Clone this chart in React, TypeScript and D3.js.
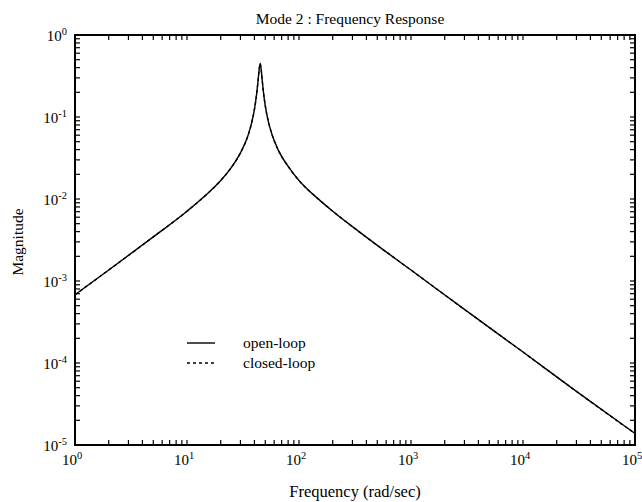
import React from "react";
import * as d3 from "d3";

// Frequency (rad/sec) and magnitude
const freq = [1, 2, 5, 10, 15, 20, 25, 30, 35, 38, 40, 42, 43, 44, 45, 46, 47, 48, 50, 53, 57, 65, 80, 100, 150, 200, 300, 500, 1000, 3000, 10000, 30000, 100000];
const openLoop = [6.8e-4, 1.36e-3, 3.45e-3, 7.1e-3, 1.14e-2, 1.68e-2, 2.45e-2, 3.65e-2, 5.9e-2, 8.8e-2, 0.124, 0.198, 0.268, 0.37, 0.45, 0.375, 0.276, 0.208, 0.137, 9.05e-2, 6.3e-2, 4.0e-2, 2.5e-2, 1.68e-2, 9.9e-3, 7.1e-3, 4.6e-3, 2.72e-3, 1.36e-3, 4.5e-4, 1.36e-4, 4.5e-5, 1.38e-5];
const closedLoop = [6.8e-4, 1.36e-3, 3.45e-3, 7.1e-3, 1.14e-2, 1.68e-2, 2.45e-2, 3.65e-2, 5.9e-2, 8.8e-2, 0.124, 0.198, 0.268, 0.37, 0.45, 0.375, 0.276, 0.208, 0.137, 9.05e-2, 6.3e-2, 4.0e-2, 2.5e-2, 1.68e-2, 9.9e-3, 7.1e-3, 4.6e-3, 2.72e-3, 1.36e-3, 4.5e-4, 1.36e-4, 4.5e-5, 1.38e-5];
const xDecades = [0, 1, 2, 3, 4, 5];
const yDecades = [0, -1, -2, -3, -4, -5];
const seriesNames = ["open-loop", "closed-loop"];
const title = "Mode 2 : Frequency Response";
const xLabel = "Frequency (rad/sec)";
const yLabel = "Magnitude";

const W = 642, H = 502;
const L = 75, R = 635, T = 35, B = 445;
const FONT = "'Liberation Serif', 'Times New Roman', serif";

export default function App() {
  const x = d3.scaleLog().domain([1, 1e5]).range([L, R]);
  const y = d3.scaleLog().domain([1e-5, 1]).range([B, T]);

  const line = d3
    .line<number>()
    .x((_, i) => x(freq[i]))
    .y((d) => y(d))
    .curve(d3.curveMonotoneX);

  const xMinor: number[] = [];
  for (let e = 0; e < 5; e++) for (let m = 1; m <= 9; m++) xMinor.push(m * Math.pow(10, e));
  xMinor.push(1e5);
  const yMinor: number[] = [];
  for (let e = -5; e < 0; e++) for (let m = 1; m <= 9; m++) yMinor.push(m * Math.pow(10, e));
  yMinor.push(1);
  const tl = 5;

  return (
    <svg width={W} height={H} style={{ position: "absolute", left: 0, top: 0, background: "#fff" }} fontFamily={FONT}>
      <rect x={0} y={0} width={W} height={H} fill="#fff" />
      {/* ticks */}
      <g stroke="#000" strokeWidth={1.2}>
        {xMinor.map((v, i) => (
          <g key={"xt" + i}>
            <line x1={x(v)} x2={x(v)} y1={B} y2={B - tl} />
            <line x1={x(v)} x2={x(v)} y1={T} y2={T + tl} />
          </g>
        ))}
        {yMinor.map((v, i) => (
          <g key={"yt" + i}>
            <line x1={L} x2={L + tl} y1={y(v)} y2={y(v)} />
            <line x1={R} x2={R - tl} y1={y(v)} y2={y(v)} />
          </g>
        ))}
      </g>
      {/* frame */}
      <rect x={L} y={T} width={R - L} height={B - T} fill="none" stroke="#000" strokeWidth={2} />
      {/* curves */}
      <path d={line(openLoop) || ""} fill="none" stroke="#000" strokeWidth={1.4} />
      <path d={line(closedLoop) || ""} fill="none" stroke="#000" strokeWidth={1.4} strokeDasharray="3,3" />
      {/* x tick labels */}
      {xDecades.map((e) => (
        <text key={"xl" + e} x={x(Math.pow(10, e)) - 3} y={B + 20} textAnchor="middle" fontSize={15}>
          10<tspan fontSize={10.5} dy={-6}>{e}</tspan>
        </text>
      ))}
      {/* y tick labels */}
      {yDecades.map((e) => (
        <text key={"yl" + e} x={L - 8} y={y(Math.pow(10, e)) + 6} textAnchor="end" fontSize={15}>
          10<tspan fontSize={10.5} dy={-6}>{e}</tspan>
        </text>
      ))}
      {/* titles */}
      <text x={350} y={24} textAnchor="middle" fontSize={15.5}>{title}</text>
      <text x={(L + R) / 2} y={497} textAnchor="middle" fontSize={16.5}>{xLabel}</text>
      <text transform={`translate(23,${(T + B) / 2 + 2}) rotate(-90)`} textAnchor="middle" fontSize={15.5}>{yLabel}</text>
      {/* legend */}
      <g>
        <line x1={187} x2={215} y1={343} y2={343} stroke="#000" strokeWidth={1.4} />
        <text x={243} y={348} fontSize={15.5}>{seriesNames[0]}</text>
        <line x1={187} x2={215} y1={363} y2={363} stroke="#000" strokeWidth={1.4} strokeDasharray="3,3" />
        <text x={243} y={368} fontSize={15.5}>{seriesNames[1]}</text>
      </g>
    </svg>
  );
}
